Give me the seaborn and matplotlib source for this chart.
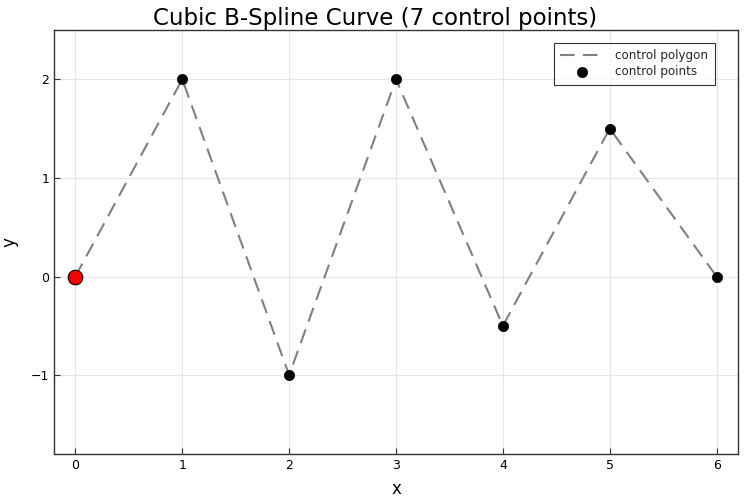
import matplotlib
matplotlib.use("Agg")
import matplotlib.pyplot as plt
import seaborn as sns
import pandas as pd

x_ctrl = [0, 1, 2, 3, 4, 5, 6]
y_ctrl = [0, 2, -1, 2, -0.5, 1.5, 0]
start_x = [0]
start_y = [0]

df = pd.DataFrame({"x": x_ctrl, "y": y_ctrl})

sns.set_style("white")
plt.rcParams['font.family'] = ['DejaVu Sans']

fig, ax = plt.subplots(figsize=(7.5, 5), dpi=100)

sns.lineplot(data=df, x="x", y="y", ax=ax, color="gray", linewidth=1.5,
             linestyle=(0, (7, 4)), label="control polygon", sort=False, zorder=2)
sns.scatterplot(data=df, x="x", y="y", ax=ax, color="black", s=55,
                edgecolor="black", linewidth=0.5, label="control points", zorder=3)
sns.scatterplot(x=start_x, y=start_y, ax=ax, color="red", s=110,
                edgecolor="black", linewidth=0.8, zorder=4, legend=False)

ax.set_xlim(-0.2, 6.2)
ax.set_ylim(-1.8, 2.5)
ax.set_xticks([0, 1, 2, 3, 4, 5, 6])
ax.set_yticks([-1, 0, 1, 2])
ax.set_yticklabels(["\u22121", "0", "1", "2"])
ax.grid(True, color="#e6e6e6", linewidth=0.8)
ax.tick_params(direction="in", length=4, labelsize=9, width=0.8,
               bottom=True, left=True, colors="#333333", labelcolor="black")
for sp in ax.spines.values():
    sp.set_color("#333333")
    sp.set_linewidth(1.0)

fig.suptitle("Cubic B-Spline Curve (7 control points)", fontsize=16.5,
             x=0.5, y=0.985, color="black")
ax.set_xlabel("x", fontsize=12, labelpad=6, color="black")
ax.set_ylabel("y", fontsize=12, labelpad=9, color="black")

leg = ax.legend(loc="upper right", bbox_to_anchor=(0.966, 0.97), fontsize=8.6,
                frameon=True, fancybox=False, edgecolor="black", borderpad=0.55,
                handlelength=3.6, handletextpad=1.0, labelspacing=0.25, borderaxespad=0)
leg.get_frame().set_linewidth(0.8)

fig.subplots_adjust(left=0.072, right=0.984, top=0.94, bottom=0.092)
fig.savefig("out.png", dpi=100)
